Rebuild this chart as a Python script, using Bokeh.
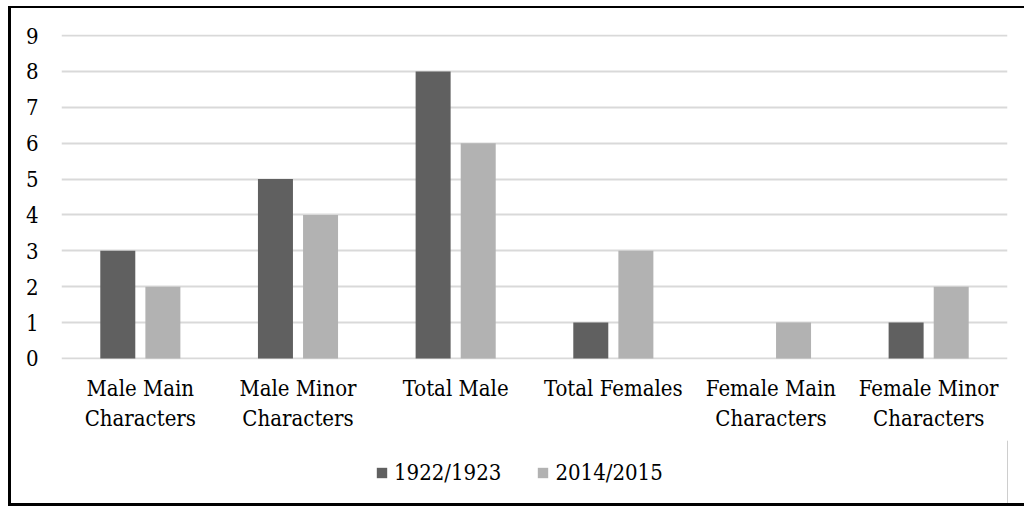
from bokeh.plotting import figure
from bokeh.layouts import column
from bokeh.models import ColumnDataSource, FactorRange, Range1d, FixedTicker, Legend, LegendItem
from bokeh.transform import dodge
from bokeh.embed import file_html
from bokeh.resources import INLINE

categories = ["Male Main\nCharacters", "Male Minor\nCharacters", "Total Male",
              "Total Females", "Female Main\nCharacters", "Female Minor\nCharacters"]
series_names = ["1922/1923", "2014/2015"]
series_colors = ["#606060", "#b2b2b2"]
values_1922 = [3, 5, 8, 1, 0, 1]
values_2014 = [2, 4, 6, 3, 1, 2]
y_ticks = [0, 1, 2, 3, 4, 5, 6, 7, 8, 9]

src = ColumnDataSource(dict(cat=categories, a=values_1922, b=values_2014))

FONT = "DejaVu Serif Condensed"

p = figure(width=1020, height=434, output_backend="svg", toolbar_location=None,
           x_range=FactorRange(*categories, range_padding=0),
           y_range=Range1d(-0.03, 9.03),
           min_border_left=50, min_border_right=24, min_border_top=26, min_border_bottom=83)
p.styles = {"border-left": "3px solid black", "border-top": "2px solid black"}
p.outline_line_color = None
p.background_fill_color = "white"
p.border_fill_color = "white"

p.vbar(x=dodge("cat", -0.143, range=p.x_range), top="a", width=0.222, source=src,
       fill_color=series_colors[0], line_color=None)
p.vbar(x=dodge("cat", 0.143, range=p.x_range), top="b", width=0.222, source=src,
       fill_color=series_colors[1], line_color=None)

p.xgrid.grid_line_color = None
p.ygrid.grid_line_color = "#d9d9d9"
p.ygrid.grid_line_width = 2
p.yaxis.ticker = FixedTicker(ticks=y_ticks)

for ax in (p.xaxis[0], p.yaxis[0]):
    ax.axis_line_color = None
    ax.major_tick_line_color = None
    ax.minor_tick_line_color = None
    ax.major_label_text_font = FONT
    ax.major_label_text_font_size = "22px"
    ax.major_label_text_color = "black"
p.yaxis.major_label_standoff = 17
p.xaxis.major_label_standoff = 10

# legend strip below the chart (dummy renderers lie outside its visible range)
q = figure(width=1020, height=66, output_backend="svg", toolbar_location=None,
           x_range=Range1d(0, 1), y_range=Range1d(0, 1),
           x_axis_type=None, y_axis_type=None, min_border=0)
q.styles = {"border-left": "3px solid black", "border-bottom": "3px solid black"}
q.outline_line_color = None
q.xgrid.visible = False
q.ygrid.visible = False
q.background_fill_color = "white"
q.border_fill_color = "white"
lr1 = q.vbar(x=[5], top=[1], width=0.1, fill_color=series_colors[0], line_color=None)
lr2 = q.vbar(x=[5], top=[1], width=0.1, fill_color=series_colors[1], line_color=None)
legend = Legend(items=[LegendItem(label=series_names[0], renderers=[lr1]),
                       LegendItem(label=series_names[1], renderers=[lr2])],
                location=(314, 21), orientation="horizontal",
                glyph_width=13, glyph_height=13, label_standoff=6, spacing=35,
                padding=0, margin=0, border_line_color=None, background_fill_alpha=0,
                label_text_font=FONT, label_text_font_size="22px", label_text_color="black")
q.add_layout(legend, "center")

layout = column(p, q, spacing=0)
layout.styles = {"padding-left": "8px", "padding-top": "6px"}

open("out.html", "w").write(file_html(layout, INLINE))
